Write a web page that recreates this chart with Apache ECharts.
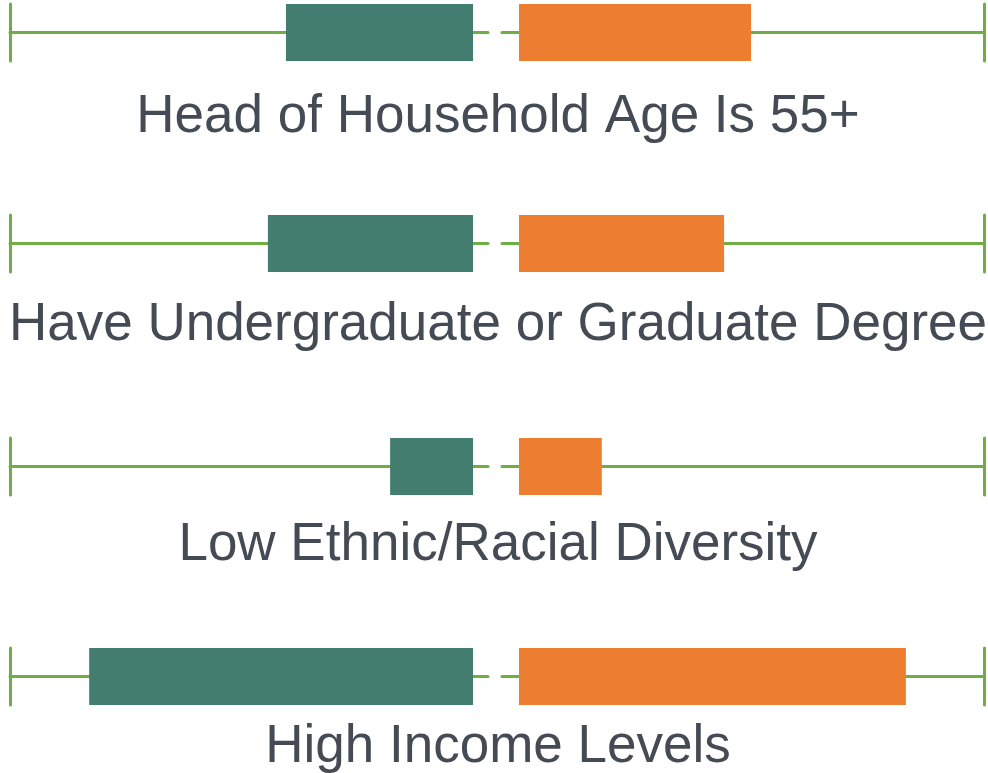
<!DOCTYPE html>
<html>
<head>
<meta charset="utf-8">
<script src="https://cdn.jsdelivr.net/npm/echarts@6/dist/echarts.min.js"></script>
<style>
  html, body {margin: 0; padding: 0; background: #fff;}
  #chart {width: 988px; height: 773px;}
</style>
</head>
<body>
<div id="chart"></div>
<script>
  // rows, top to bottom
  const categories = [
    'Head of Household Age Is 55+',
    'Have Undergraduate or Graduate Degree',
    'Low Ethnic/Racial Diversity',
    'High Income Levels'
  ];
  const leftValues = [40.4, 44.3, 17.9, 82.9];
  const rightValues = [49.9, 44.1, 17.8, 83.2];

  // layout
  const rowTops = [4, 215, 438, 648];
  const labelCenters = [117, 325, 545, 747];
  const rowHeight = 57;

  const lineColor = '#70ad47';
  const leftColor = '#427d6f';
  const rightColor = '#ed7d31';

  const grids = [];
  const xAxes = [];
  const yAxes = [];
  const series = [];
  const titles = [];

  categories.forEach((name, i) => {
    // left half (bar grows leftwards)
    grids.push({left: 10, width: 478, top: rowTops[i], height: rowHeight});
    // right half
    grids.push({left: 502, width: 482, top: rowTops[i], height: rowHeight});

    [0, 1].forEach(side => {
      const idx = i * 2 + side;
      xAxes.push({
        gridIndex: idx,
        type: 'value',
        inverse: side === 0,
        min: side === 0 ? -3.24 : -3.66,
        max: 100,
        position: 'bottom',
        offset: -rowHeight / 2,
        axisLine: {show: true, onZero: false, lineStyle: {color: lineColor, width: 3}},
        axisTick: {show: false},
        axisLabel: {show: false},
        splitLine: {show: false}
      });
      yAxes.push({
        gridIndex: idx,
        type: 'category',
        data: [name],
        position: side === 0 ? 'left' : 'right',
        axisLine: {show: true, onZero: false, lineStyle: {color: lineColor, width: 3}},
        axisTick: {show: false},
        axisLabel: {show: false},
        splitLine: {show: false}
      });
      series.push({
        type: 'bar',
        xAxisIndex: idx,
        yAxisIndex: idx,
        barWidth: '100%',
        silent: true,
        itemStyle: {color: side === 0 ? leftColor : rightColor},
        data: [side === 0 ? leftValues[i] : rightValues[i]]
      });
    });

    titles.push({
      text: name,
      left: 498,
      textAlign: 'center',
      top: labelCenters[i] - 26.5,
      padding: 0,
      textStyle: {
        color: '#454b54',
        fontFamily: 'Liberation Sans, Arial, sans-serif',
        fontWeight: 'normal',
        fontSize: 53
      }
    });
  });

  const myChart = echarts.init(document.getElementById('chart'));
  myChart.setOption({
    animation: false,
    title: titles,
    grid: grids,
    xAxis: xAxes,
    yAxis: yAxes,
    series: series
  });
</script>
</body>
</html>
